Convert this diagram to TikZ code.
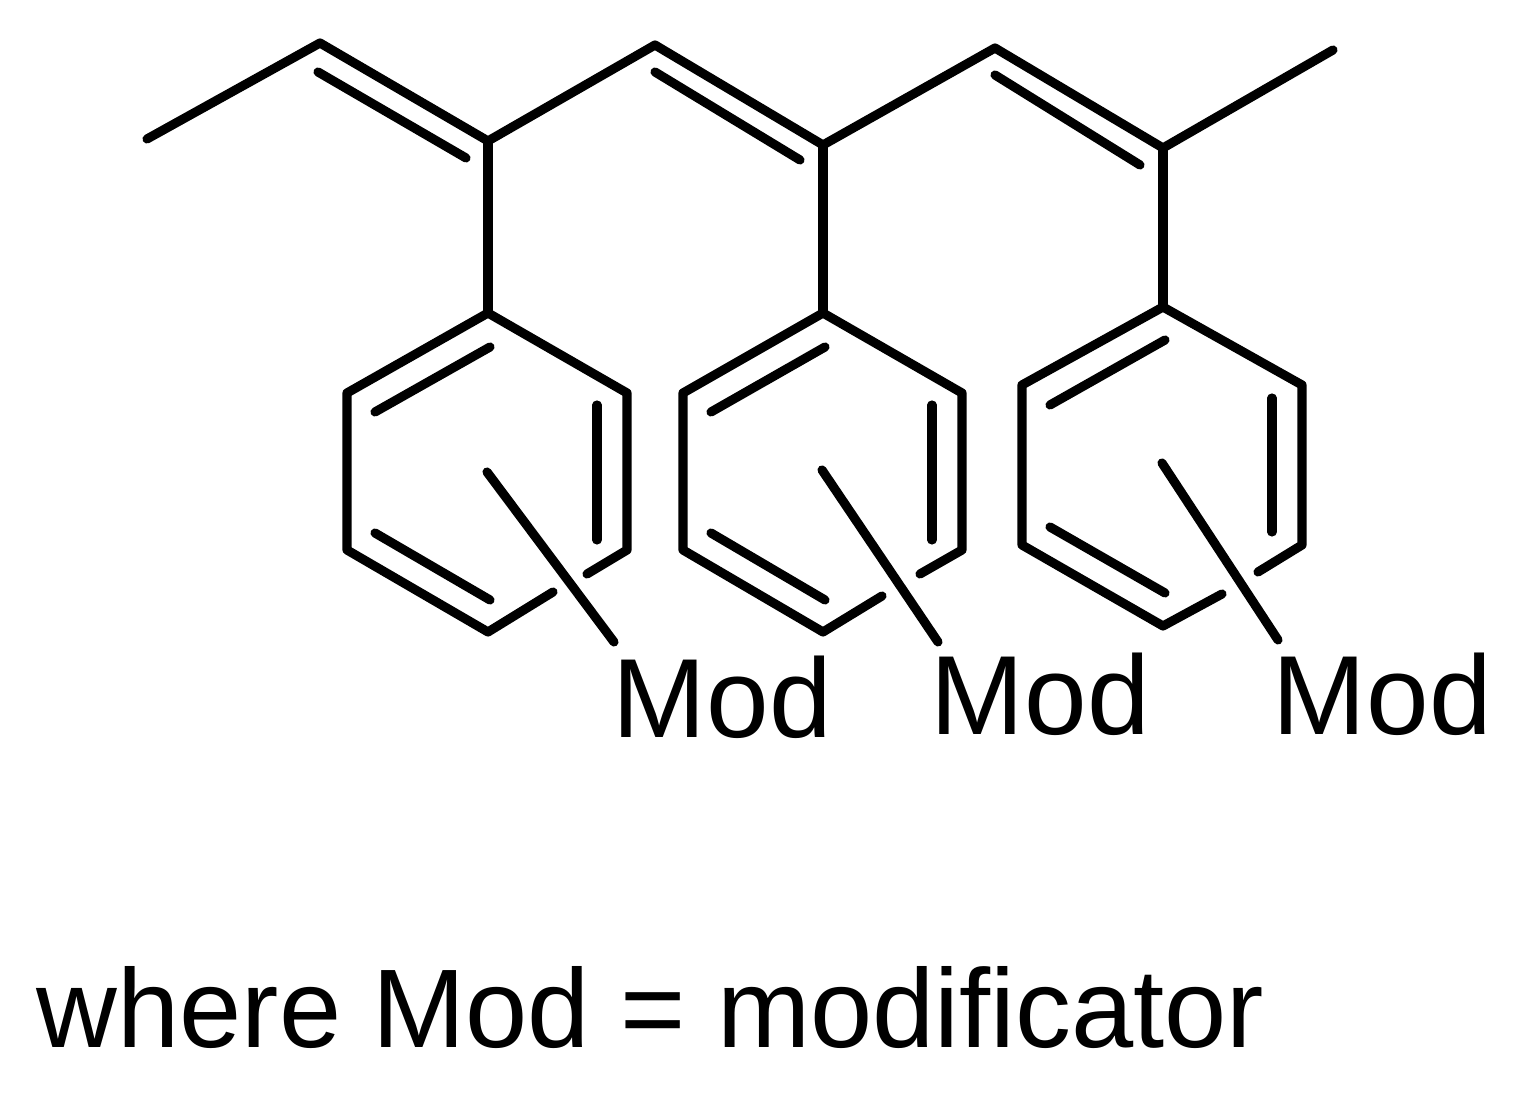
\documentclass[tikz,border=0pt]{standalone}
\usepackage{fontspec}
\setmainfont{Liberation Sans}
\begin{document}
\begin{tikzpicture}[x=0.01cm,y=-0.01cm,bond/.style={line width=2.6pt,line cap=round,line join=round},
 modlbl/.style={anchor=base west,inner sep=0pt,font=\fontsize{32}{36}\selectfont}]
\useasboundingbox (0,0) rectangle (1532,1104);
\draw[bond] (147,139)--(320,43)--(488,141)--(655,45)--(823,145)--(995,48)--(1163,148)--(1333,50);
\draw[bond] (318,72)--(466,158);
\draw[bond] (655,72)--(800,160);
\draw[bond] (995,75)--(1140,165);
\draw[bond] (488,141)--(488,313);
\draw[bond] (823,145)--(823,313);
\draw[bond] (1163,148)--(1163,307);
% ring 1
\draw[bond] (587,574)--(627,550)--(627,393)--(488,313)--(347,393)--(347,550)--(488,632)--(553,592);
\draw[bond] (490,347)--(375,412);
\draw[bond] (597,405)--(597,540);
\draw[bond] (375,533)--(490,600);
\draw[bond] (487,472)--(614,642);
% ring 2
\draw[bond] (920,574)--(962,550)--(962,393)--(823,313)--(683,393)--(683,550)--(823,632)--(882,596);
\draw[bond] (825,347)--(711,412);
\draw[bond] (932,405)--(932,540);
\draw[bond] (711,533)--(825,600);
\draw[bond] (822,470)--(938,642);
% ring 3
\draw[bond] (1258,572)--(1302,545)--(1302,385)--(1163,307)--(1022,385)--(1022,545)--(1163,626)--(1222,594);
\draw[bond] (1165,340)--(1050,405);
\draw[bond] (1272,398)--(1272,532);
\draw[bond] (1050,527)--(1165,593);
\draw[bond] (1162,463)--(1278,640);
\node[modlbl] (m1) at (612,738) {Mod};
\node[modlbl] (m2) at (930,735) {Mod};
\node[modlbl] (m3) at (1272,735) {Mod};
\node[anchor=base west,inner sep=0pt,font=\fontsize{31.8}{36}\selectfont] (cap) at (36,1048) {where Mod = modificator};
\end{tikzpicture}
\end{document}
